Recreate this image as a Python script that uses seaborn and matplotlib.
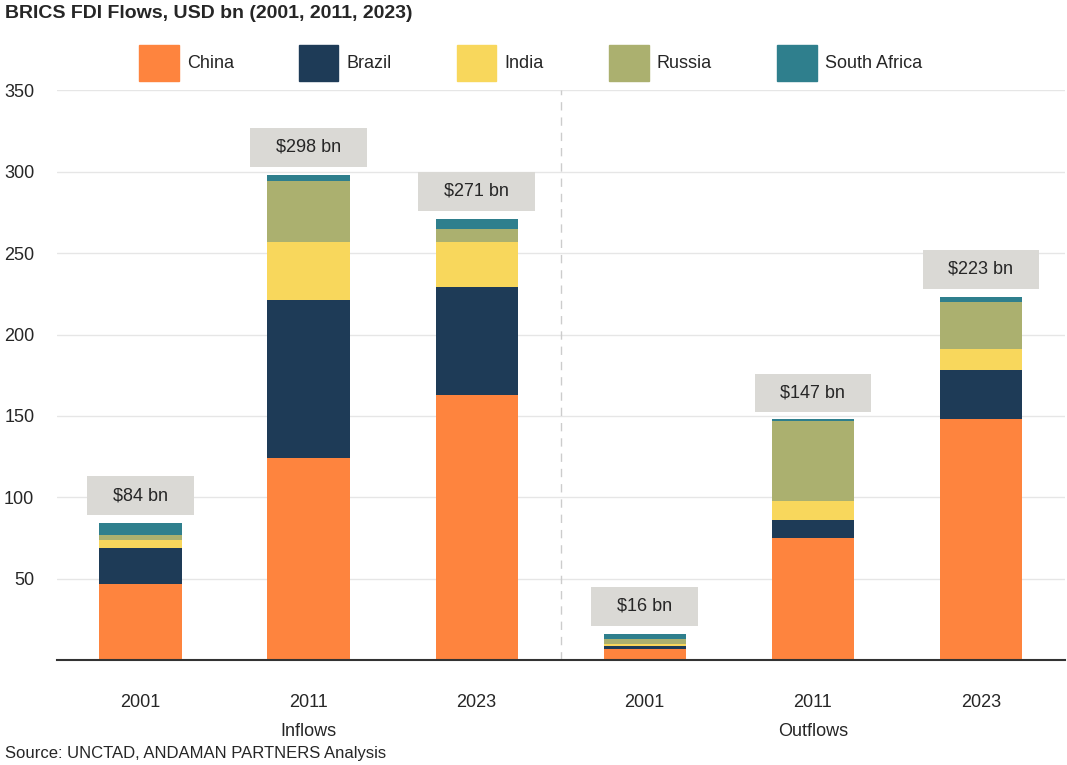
import numpy as np
import pandas as pd
import seaborn as sns
import matplotlib.pyplot as plt
from matplotlib.patches import Patch

sns.set_theme(style="white")
plt.rcParams["font.family"] = ["Liberation Sans Narrow", "Liberation Sans", "DejaVu Sans"]

# data (USD bn)
groups = ["Inflows", "Inflows", "Inflows", "Outflows", "Outflows", "Outflows"]
years = ["2001", "2011", "2023", "2001", "2011", "2023"]
china = [47, 124, 163, 7, 75, 148]
brazil = [22, 97, 66, 2, 11, 30]
india = [5, 36, 28, 1, 12, 13]
russia = [3, 37, 8, 3, 49, 29]
south_africa = [7, 4, 6, 3, 1, 3]
totals = [84, 298, 271, 16, 147, 223]

countries = ["China", "Brazil", "India", "Russia", "South Africa"]
colors = ["#fe843e", "#1e3b57", "#f8d75c", "#abb06f", "#2f7f8d"]

keys = [g + " " + y for g, y in zip(groups, years)]
df = pd.DataFrame({"key": keys, "China": china, "Brazil": brazil, "India": india,
                   "Russia": russia, "South Africa": south_africa})

fig = plt.figure(figsize=(10.67, 7.65), dpi=100)
ax = fig.add_axes([0.053, 0.137, 0.945, 0.745])

bottom = np.zeros(len(df))
for c, col in zip(countries, colors):
    sns.barplot(data=df, x="key", y=c, color=col, bottom=bottom, width=0.49,
                saturation=1, ax=ax, order=keys, linewidth=0)
    bottom += df[c].values

ax.set_xlim(-0.5, 5.5)
ax.set_ylim(0, 350)
ax.set_yticks([50, 100, 150, 200, 250, 300, 350])
ax.tick_params(axis="y", labelsize=13, length=0, pad=16)
ax.tick_params(axis="x", labelsize=13, length=0, pad=24)
ax.set_xticks(range(6))
ax.set_xticklabels(years)
ax.set_xlabel("")
ax.set_ylabel("")
ax.yaxis.grid(True, color="#e6e6e6", linewidth=1)
ax.set_axisbelow(True)
for s in ["top", "right", "left"]:
    ax.spines[s].set_visible(False)
ax.spines["bottom"].set_color("#333333")
ax.spines["bottom"].set_linewidth(1.5)
ax.axvline(2.5, color="#cccccc", linestyle=(0, (6, 5)), linewidth=1)

# total labels
for i, t in enumerate(totals):
    ax.text(i, t + 17, f"   ${t} bn   ", ha="center", va="center", fontsize=13,
            bbox=dict(boxstyle="square,pad=0.6", fc="#dad9d5", ec="none"))

# group labels
ax.text(1, -0.125, "Inflows", transform=ax.get_xaxis_transform(), ha="center", va="center", fontsize=13)
ax.text(4, -0.125, "Outflows", transform=ax.get_xaxis_transform(), ha="center", va="center", fontsize=13)

fig.text(0.005, 0.982, "BRICS FDI Flows, USD bn (2001, 2011, 2023)", fontsize=14,
         fontweight="bold", ha="left", va="center")
fig.text(0.005, 0.015, "Source: UNCTAD, ANDAMAN PARTNERS Analysis", fontsize=12,
         ha="left", va="center")

handles = [Patch(color=col, label=c) for c, col in zip(countries, colors)]
fig.legend(handles=handles, loc="center", bbox_to_anchor=(0.497, 0.918), ncol=5,
           frameon=False, fontsize=13, handlelength=2.2, handleheight=2.7,
           columnspacing=3.6, handletextpad=0.45)

fig.savefig("out.png", dpi=100)
